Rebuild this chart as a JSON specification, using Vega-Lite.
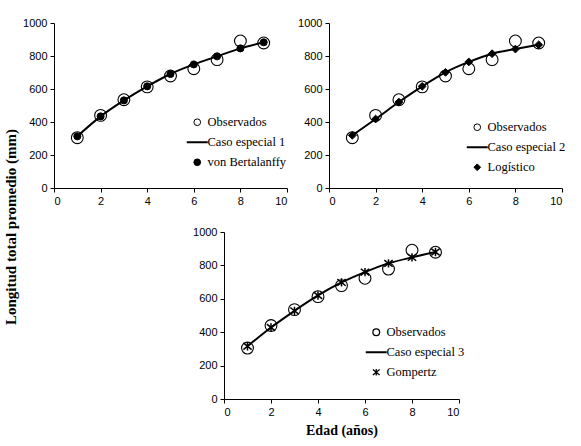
{
  "$schema": "https://vega.github.io/schema/vega-lite/v6.json",
  "autosize": {"type": "pad"},
  "padding": {"left": 3, "top": 17, "right": 5, "bottom": 5},
  "background": "white",
  "title": {
    "text": "Longitud total promedio (mm)",
    "orient": "left",
    "anchor": "middle",
    "font": "Liberation Serif",
    "fontWeight": "bold",
    "fontSize": 15,
    "color": "black",
    "offset": 4
  },
  "config": {
    "view": {"stroke": null},
    "axis": {
      "grid": false,
      "domainColor": "black",
      "tickColor": "black",
      "tickSize": 4,
      "labelFont": "Liberation Sans",
      "labelFontSize": 11,
      "labelColor": "black",
      "labelPadding": 3,
      "titleFont": "Liberation Serif",
      "titleFontWeight": "bold",
      "titleFontSize": 14,
      "titleColor": "black"
    },
    "legend": {
      "labelFont": "Liberation Serif",
      "labelFontSize": 12.5,
      "labelColor": "black",
      "padding": 0,
      "rowPadding": 7,
      "labelOffset": 4,
      "symbolStrokeWidth": 1,
      "symbolSize": 45
    }
  },
  "datasets": {
    "obs": [
      {"edad": 1, "longitud": 305}, {"edad": 2, "longitud": 440}, {"edad": 3, "longitud": 535},
      {"edad": 4, "longitud": 613}, {"edad": 5, "longitud": 679}, {"edad": 6, "longitud": 723},
      {"edad": 7, "longitud": 778}, {"edad": 8, "longitud": 891}, {"edad": 9, "longitud": 879}
    ],
    "vb": [
      {"edad": 1, "longitud": 313}, {"edad": 2, "longitud": 434}, {"edad": 3, "longitud": 531},
      {"edad": 4, "longitud": 616}, {"edad": 5, "longitud": 691}, {"edad": 6, "longitud": 749},
      {"edad": 7, "longitud": 798}, {"edad": 8, "longitud": 846}, {"edad": 9, "longitud": 883}
    ],
    "log": [
      {"edad": 1, "longitud": 319}, {"edad": 2, "longitud": 418}, {"edad": 3, "longitud": 521},
      {"edad": 4, "longitud": 616}, {"edad": 5, "longitud": 701}, {"edad": 6, "longitud": 764},
      {"edad": 7, "longitud": 814}, {"edad": 8, "longitud": 842}, {"edad": 9, "longitud": 868}
    ],
    "gom": [
      {"edad": 1, "longitud": 316}, {"edad": 2, "longitud": 428}, {"edad": 3, "longitud": 528},
      {"edad": 4, "longitud": 620}, {"edad": 5, "longitud": 698}, {"edad": 6, "longitud": 760},
      {"edad": 7, "longitud": 812}, {"edad": 8, "longitud": 848}, {"edad": 9, "longitud": 880}
    ]
  },
  "spacing": 20,
  "resolve": {
    "scale": {"shape": "independent", "fill": "independent", "stroke": "independent"},
    "legend": {"shape": "independent", "fill": "independent", "stroke": "independent"}
  },
  "vconcat": [
    {
      "spacing": 9,
      "resolve": {
        "scale": {"shape": "independent", "fill": "independent", "stroke": "independent"},
        "legend": {"shape": "independent", "fill": "independent", "stroke": "independent"}
      },
      "hconcat": [
        {
          "width": 233,
          "height": 165,
          "encoding": {
            "x": {"field": "edad", "type": "quantitative", "scale": {"domain": [0, 10]}, "axis": {"values": [0, 2, 4, 6, 8, 10], "title": null}},
            "y": {"field": "longitud", "type": "quantitative", "scale": {"domain": [0, 1000]}, "axis": {"values": [0, 200, 400, 600, 800, 1000], "format": "d", "title": null}}
          },
          "layer": [
            {
              "data": {"name": "vb"},
              "mark": {"type": "line", "interpolate": "monotone", "strokeWidth": 2},
              "encoding": {
                "stroke": {"datum": "Caso especial 1", "scale": {"domain": ["Observados", "Caso especial 1", "von Bertalanffy"], "range": ["black", "black", "black"]},
                           "legend": {"title": null, "orient": "none", "legendX": 137, "legendY": 93,
                                      "encode": {"symbols": {"update": {"size": {"signal": "datum.label == 'Caso especial 1' ? 440 : 45"}, "strokeWidth": {"signal": "datum.label == 'Caso especial 1' ? 2 : 1"}}}}}}
              }
            },
            {
              "data": {"name": "obs"},
              "mark": {"type": "point", "filled": true, "size": 140, "strokeWidth": 1.1, "opacity": 1},
              "encoding": {
                "shape": {"datum": "Observados", "scale": {"domain": ["Observados", "Caso especial 1", "von Bertalanffy"], "range": ["circle", "stroke", "circle"]}, "legend": {"title": null}},
                "fill": {"datum": "Observados", "scale": {"domain": ["Observados", "Caso especial 1", "von Bertalanffy"], "range": ["transparent", "transparent", "black"]}, "legend": {"title": null}},
                "stroke": {"datum": "Observados"}
              }
            },
            {
              "data": {"name": "vb"},
              "mark": {"type": "point", "filled": true, "size": 50, "strokeWidth": 1, "opacity": 1},
              "encoding": {
                "shape": {"datum": "von Bertalanffy"},
                "fill": {"datum": "von Bertalanffy"},
                "stroke": {"datum": "von Bertalanffy"}
              }
            }
          ]
        },
        {
          "width": 233,
          "height": 165,
          "encoding": {
            "x": {"field": "edad", "type": "quantitative", "scale": {"domain": [0, 10]}, "axis": {"values": [0, 2, 4, 6, 8, 10], "title": null}},
            "y": {"field": "longitud", "type": "quantitative", "scale": {"domain": [0, 1000]}, "axis": {"values": [0, 200, 400, 600, 800, 1000], "format": "d", "title": null}}
          },
          "layer": [
            {
              "data": {"name": "log"},
              "mark": {"type": "line", "interpolate": "monotone", "strokeWidth": 2},
              "encoding": {
                "stroke": {"datum": "Caso especial 2", "scale": {"domain": ["Observados", "Caso especial 2", "Logístico"], "range": ["black", "black", "black"]},
                           "legend": {"title": null, "orient": "none", "legendX": 142, "legendY": 98,
                                      "encode": {"symbols": {"update": {"size": {"signal": "datum.label == 'Caso especial 2' ? 440 : 45"}, "strokeWidth": {"signal": "datum.label == 'Caso especial 2' ? 2 : 1"}}}}}}
              }
            },
            {
              "data": {"name": "obs"},
              "mark": {"type": "point", "filled": true, "size": 140, "strokeWidth": 1.1, "opacity": 1},
              "encoding": {
                "shape": {"datum": "Observados", "scale": {"domain": ["Observados", "Caso especial 2", "Logístico"], "range": ["circle", "stroke", "diamond"]}, "legend": {"title": null}},
                "fill": {"datum": "Observados", "scale": {"domain": ["Observados", "Caso especial 2", "Logístico"], "range": ["transparent", "transparent", "black"]}, "legend": {"title": null}},
                "stroke": {"datum": "Observados"}
              }
            },
            {
              "data": {"name": "log"},
              "mark": {"type": "point", "filled": true, "size": 60, "strokeWidth": 1, "opacity": 1},
              "encoding": {
                "shape": {"datum": "Logístico"},
                "fill": {"datum": "Logístico"},
                "stroke": {"datum": "Logístico"}
              }
            }
          ]
        }
      ]
    },
    {
      "spacing": 0,
      "resolve": {
        "scale": {"shape": "independent", "fill": "independent", "stroke": "independent"},
        "legend": {"shape": "independent", "fill": "independent", "stroke": "independent"}
      },
      "hconcat": [
        {
          "width": 138,
          "height": 167,
          "data": {"values": []},
          "mark": "rule",
          "encoding": {}
        },
        {
          "width": 235,
          "height": 167,
          "encoding": {
            "x": {"field": "edad", "type": "quantitative", "scale": {"domain": [0, 10]}, "axis": {"values": [0, 2, 4, 6, 8, 10], "title": "Edad (años)", "titlePadding": 6}},
            "y": {"field": "longitud", "type": "quantitative", "scale": {"domain": [0, 1000]}, "axis": {"values": [0, 200, 400, 600, 800, 1000], "format": "d", "title": null}}
          },
          "layer": [
            {
              "data": {"name": "gom"},
              "mark": {"type": "line", "interpolate": "monotone", "strokeWidth": 2},
              "encoding": {
                "stroke": {"datum": "Caso especial 3", "scale": {"domain": ["Observados", "Caso especial 3", "Gompertz"], "range": ["black", "black", "black"]},
                           "legend": {"title": null, "orient": "none", "legendX": 146, "legendY": 94,
                                      "encode": {"symbols": {"update": {"size": {"signal": "datum.label == 'Caso especial 3' ? 440 : 45"}, "strokeWidth": {"signal": "datum.label == 'Caso especial 3' ? 2 : 1.3"}}}}}}
              }
            },
            {
              "data": {"name": "obs"},
              "mark": {"type": "point", "filled": true, "size": 140, "strokeWidth": 1.1, "opacity": 1},
              "encoding": {
                "shape": {"datum": "Observados", "scale": {"domain": ["Observados", "Caso especial 3", "Gompertz"], "range": ["circle", "stroke", "M-1,-0.8L1,0.8M-1,0.8L1,-0.8M0,-1L0,1"]}, "legend": {"title": null}},
                "fill": {"datum": "Observados", "scale": {"domain": ["Observados", "Caso especial 3", "Gompertz"], "range": ["transparent", "transparent", "black"]}, "legend": {"title": null}},
                "stroke": {"datum": "Observados"}
              }
            },
            {
              "data": {"name": "gom"},
              "mark": {"type": "point", "filled": true, "size": 70, "strokeWidth": 1.5, "opacity": 1},
              "encoding": {
                "shape": {"datum": "Gompertz"},
                "fill": {"datum": "Gompertz"},
                "stroke": {"datum": "Gompertz"}
              }
            }
          ]
        }
      ]
    }
  ]
}
